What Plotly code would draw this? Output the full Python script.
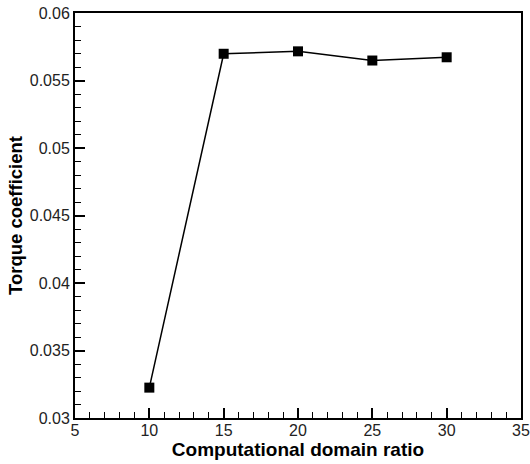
import plotly.graph_objects as go

domain_ratio = [10, 15, 20, 25, 30]
torque_coef = [0.03225, 0.05698, 0.05716, 0.05648, 0.05672]

fig = go.Figure()
fig.add_trace(go.Scatter(
    x=domain_ratio, y=torque_coef, mode="lines+markers",
    line=dict(color="black", width=1.5),
    marker=dict(symbol="square", size=10, color="black"),
    showlegend=False,
))

font_family = "Liberation Sans, Arial, sans-serif"
fig.update_layout(
    width=530, height=464,
    margin=dict(l=75, r=9, t=13, b=46),
    plot_bgcolor="white", paper_bgcolor="white",
    font=dict(family=font_family, color="#222", size=14),
)
fig.update_xaxes(
    range=[5, 35], dtick=5, tick0=5, showgrid=False, zeroline=False, automargin=False,
    showline=True, linecolor="black", linewidth=2, mirror=True,
    ticks="inside", ticklen=10, tickwidth=2, tickcolor="black",
    minor=dict(dtick=1, ticks="inside", ticklen=6, tickwidth=1, tickcolor="black"),
    tickfont=dict(size=16), ticklabelstandoff=-3, ticklabeloverflow="allow",
    title=dict(text="<b>Computational domain ratio</b>", font=dict(size=19, color="black"), standoff=4),
)
fig.update_yaxes(
    range=[0.03, 0.06], dtick=0.005, tick0=0.03, showgrid=False, zeroline=False, automargin=False,
    showline=True, linecolor="black", linewidth=2, mirror=True,
    ticks="inside", ticklen=10, tickwidth=2, tickcolor="black",
    minor=dict(dtick=0.001, ticks="inside", ticklen=6, tickwidth=1, tickcolor="black"),
    tickfont=dict(size=16), ticklabeloverflow="allow",
    title=dict(text="<b>Torque coefficient</b>", font=dict(size=18.5, color="black"), standoff=2),
)
fig.write_html("out.html", config={"displayModeBar": False},
               post_script="document.body.style.margin='0';")
